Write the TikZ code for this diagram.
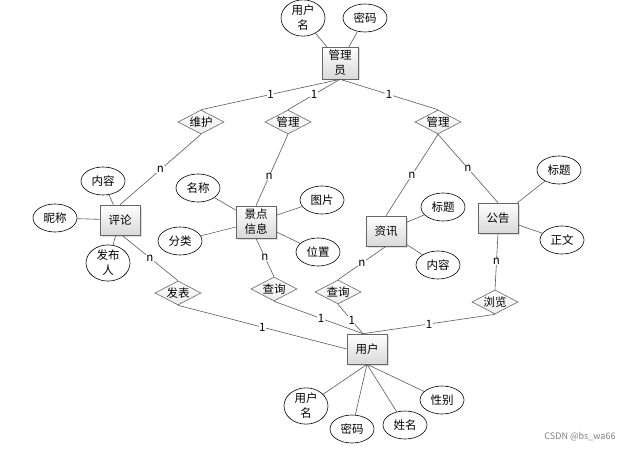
\documentclass[tikz,border=0pt]{standalone}
\usepackage{fontspec}
\setmainfont{Noto Sans CJK SC}
\usetikzlibrary{shapes.geometric,shadows}

\begin{document}
\begin{tikzpicture}[x=1pt, y=-1pt, node font=\fontsize{11.5}{13}\selectfont,
  line width=0.6pt,
  link/.style={draw=black!65},
  entity/.style={draw=black!60, top color=white, bottom color=gray!30,
    drop shadow={opacity=0.25, shadow xshift=1.5pt, shadow yshift=-1.5pt},
    minimum width=40, minimum height=30, inner sep=1pt, align=center},
  attr/.style={draw=black, ellipse, fill=white, minimum width=44,
    minimum height=28, inner sep=0pt, align=center},
  rel/.style={draw=black!60, diamond, aspect=1.9, top color=white,
    bottom color=gray!15, minimum width=46, minimum height=24, inner sep=0pt},
  card/.style={fill=white, inner sep=0.5pt, draw=none}]
  \useasboundingbox (0,0) rectangle (634,449);

  % entities
  \node [entity, minimum width=36, minimum height=32] (admin) at (340,63) {管理\\[2pt]员};
  \node [entity] (cmt)    at (120,220) {评论};
  \node [entity, minimum height=32] (scenic) at (256,222) {景点\\[2pt]信息};
  \node [entity] (news)   at (386,231) {资讯};
  \node [entity] (notice) at (498,218) {公告};
  \node [entity] (user)   at (367,349) {用户};

  % relations
  \node [rel] (keep)  at (201,122) {维护};
  \node [rel] (mgrA)  at (288,122) {管理};
  \node [rel] (mgrB)  at (438,122) {管理};
  \node [rel] (post)  at (178,293) {发表};
  \node [rel] (askA)  at (274,289) {查询};
  \node [rel] (askB)  at (338,292) {查询};
  \node [rel] (view)  at (495,302) {浏览};

  % attributes
  \node [attr, minimum height=32] (aName) at (303,18) {用户\\[2pt]名};
  \node [attr] (aPwd)  at (365,18) {密码};
  \node [attr] (cText) at (103,181) {内容};
  \node [attr] (cNick) at (55,218)  {昵称};
  \node [attr, minimum height=34] (cBy) at (108,263) {发布\\[2pt]人};
  \node [attr] (sName) at (198,188) {名称};
  \node [attr] (sKind) at (180,241) {分类};
  \node [attr] (sPic)  at (322,200) {图片};
  \node [attr] (sPos)  at (318,252) {位置};
  \node [attr] (nTitle) at (443,207) {标题};
  \node [attr] (nText)  at (438,265) {内容};
  \node [attr] (bTitle) at (559,170) {标题};
  \node [attr] (bText)  at (562,240) {正文};
  \node [attr, minimum height=32] (uName) at (306,406) {用户\\[2pt]名};
  \node [attr] (uPwd)  at (352,429) {密码};
  \node [attr] (uReal) at (405,425) {姓名};
  \node [attr] (uSex)  at (442,400) {性别};

  % attribute links
  \draw [link] (admin) -- (aName);
  \draw [link] (admin) -- (aPwd);
  \foreach \a in {cText,cNick,cBy}
    \draw [link] (cmt) -- (\a);
  \foreach \a in {sName,sKind,sPic,sPos}
    \draw [link] (scenic) -- (\a);
  \foreach \a in {nTitle,nText}
    \draw [link] (news) -- (\a);
  \foreach \a in {bTitle,bText}
    \draw [link] (notice) -- (\a);
  \foreach \a in {uName,uPwd,uReal,uSex}
    \draw [link] (user.south) -- (\a);

  % relationship links
  \draw [link] (admin.south) -- node [card] {1} (keep.north);
  \draw [link] (admin.south) -- node [card] {1} (mgrA.north);
  \draw [link] (admin.south) -- node [card] {1} (mgrB.north);
  \draw [link] (keep.south) -- node [card] {n} (cmt.north);
  \draw [link] (mgrA.south) -- node [card, pos=0.59] {n} (scenic.north);
  \draw [link] (mgrB.south) -- node [card] {n} (news.north);
  \draw [link] (mgrB.south) -- node [card] {n} (notice.north);
  \draw [link] ([xshift=2]cmt.south) -- node [card] {n} (post.north);
  \draw [link] (post.south) -- node [card] {1} (user.west);
  \draw [link] (scenic.south) -- node [card] {n} (askA.north);
  \draw [link] (askA.south) -- node [card, pos=0.53] {1} ([xshift=-4]user.north);
  \draw [link] (news.south) -- node [card] {n} (askB.north);
  \draw [link] (askB.south) -- node [card, pos=0.55] {1} ([xshift=-4]user.north);
  \draw [link] (notice.south) -- node [card] {n} (view.north);
  \draw [link] (view.south) -- node [card] {1} ([xshift=-4]user.north);

  \node [text=gray, font=\fontsize{9}{11}\selectfont] (mark) at (580,437) {CSDN @bs\_wa66};
\end{tikzpicture}
\end{document}
